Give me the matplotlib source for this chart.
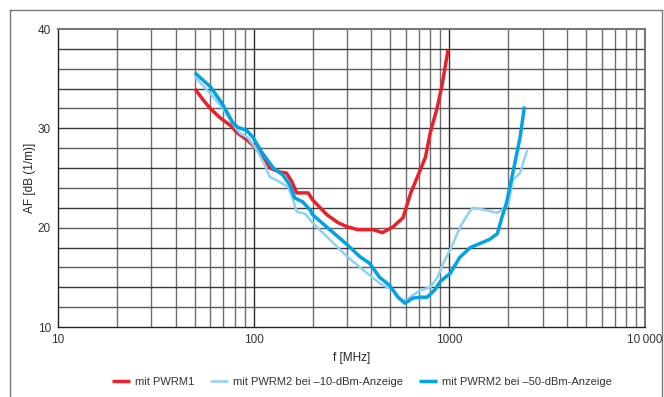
import matplotlib
matplotlib.use("Agg")
import matplotlib.pyplot as plt
from matplotlib.lines import Line2D
from matplotlib.ticker import FixedLocator, NullFormatter, NullLocator

plt.rcParams['font.family'] = ['Liberation Sans Narrow', 'Liberation Sans', 'DejaVu Sans']

# --- data ---
f_red = [50, 55, 60, 67, 76, 83, 93, 104, 113, 121, 136, 147, 157, 166, 190, 200,
         237, 270, 300, 340, 408, 455, 517, 580, 635, 670, 710, 755, 800, 865, 915, 985]
af_red = [34.0, 32.9, 32.0, 31.1, 30.3, 29.5, 28.8, 27.9, 27.0, 26.0, 25.6, 25.5, 24.6,
          23.5, 23.5, 22.8, 21.3, 20.5, 20.1, 19.8, 19.8, 19.5, 20.1, 21.0, 23.5, 24.6,
          25.8, 27.1, 29.6, 32.0, 34.2, 37.9]

f_m10 = [50, 60, 69, 78, 85, 93, 104, 112, 121, 136, 150, 159, 166, 183, 194, 200, 245,
         300, 360, 440, 515, 573, 605, 650, 710, 800, 870, 930, 1040, 1130, 1220, 1310,
         1430, 1760, 1860, 2000, 2110, 2300, 2380, 2500]
af_m10 = [35.2, 33.5, 32.1, 30.5, 29.5, 29.1, 27.8, 26.6, 25.1, 24.6, 24.1, 22.8, 21.6,
          21.4, 20.8, 20.5, 18.8, 17.1, 15.8, 14.4, 13.7, 12.7, 12.7, 13.2, 13.7, 14.0,
          15.0, 16.4, 18.3, 20.0, 21.1, 22.0, 21.9, 21.5, 21.8, 22.3, 24.8, 25.5, 26.5, 27.8]

f_m50 = [50, 60, 69, 78, 83, 92, 99, 110, 126, 141, 153, 162, 178, 194, 200, 245, 300,
         348, 392, 440, 495, 546, 593, 650, 710, 770, 840, 900, 1010, 1130, 1280, 1430,
         1600, 1760, 1860, 1960, 2110, 2300, 2420]
af_m50 = [35.6, 34.2, 32.5, 30.6, 30.1, 29.8, 29.1, 27.6, 26.0, 25.3, 24.3, 23.0, 22.6,
          21.8, 21.3, 19.8, 18.3, 17.1, 16.4, 15.0, 14.2, 13.0, 12.4, 12.9, 13.0, 13.0,
          13.7, 14.6, 15.4, 17.0, 18.0, 18.4, 18.8, 19.4, 21.1, 22.5, 25.5, 29.1, 32.2]

labels = ['mit PWRM1', 'mit PWRM2 bei \u201310-dBm-Anzeige', 'mit PWRM2 bei \u201350-dBm-Anzeige']
colors = ['#e8212b', '#8ed2f3', '#00a4e2']

x_ticks = [10, 100, 1000, 10000]
x_ticklabels = ['10', '100', '1000', '10\u2009000']
y_ticks = [10, 20, 30, 40]

# --- figure ---
fig = plt.figure(figsize=(6.64, 3.97), dpi=100)
ax = fig.add_axes([58/664, 1-327/397, (645-58)/664, (327-29)/397])
ax.set_xscale('log')
ax.set_xlim(10, 10000)
ax.set_ylim(10, 40)

# grid
minor_x = [m * 10**d for d in range(1, 4) for m in range(2, 10)]
for xv in minor_x:
    ax.axvline(xv, color='#6e6e6e', lw=1.0, zorder=1)
for xv in [100, 1000]:
    ax.axvline(xv, color='#2a2a2a', lw=1.0, zorder=1)
for yv in range(12, 40, 2):
    ax.axhline(yv, color='#3a3a3a' if yv % 4 == 2 else '#5a5a5a', lw=1.0, zorder=1)

kw = dict(solid_capstyle='butt', solid_joinstyle='round')
ax.plot(f_red, af_red, color=colors[0], lw=2.5, label=labels[0], zorder=3, **kw)
ax.plot(f_m10, af_m10, color=colors[1], lw=1.8, label=labels[1], zorder=4, **kw)
ax.plot(f_m50, af_m50, color=colors[2], lw=2.5, label=labels[2], zorder=5, **kw)

ax.xaxis.set_major_locator(FixedLocator(x_ticks))
ax.set_xticklabels(x_ticklabels)
ax.xaxis.set_minor_locator(NullLocator())
ax.xaxis.set_minor_formatter(NullFormatter())
ax.set_yticks(y_ticks)
ax.tick_params(axis='both', length=0, labelsize=8.5, colors='#333333', pad=5)

for s in ['top', 'right']:
    ax.spines[s].set_color('#777777')
    ax.spines[s].set_linewidth(1.5)
for s in ['left', 'bottom']:
    ax.spines[s].set_color('#222222')
    ax.spines[s].set_linewidth(1.0)

ax.set_xlabel('f [MHz]', fontsize=8.5, color='#222222', labelpad=4)
ax.set_ylabel('AF [dB (1/m)]', fontsize=8.5, color='#222222', labelpad=1)

fig.legend(loc='center', bbox_to_anchor=(0.545, 0.038), ncol=3, frameon=False,
           fontsize=8, handlelength=1.6, handletextpad=0.5, columnspacing=1.4,
           labelcolor='#333333')

# outer frame
fc = '#777777'
fig.add_artist(Line2D([10/664, 662/664], [1-9.5/397, 1-9.5/397], transform=fig.transFigure, color=fc, lw=1.0))
fig.add_artist(Line2D([10/664, 10/664], [0, 1-9.5/397], transform=fig.transFigure, color=fc, lw=1.0))
fig.add_artist(Line2D([662/664, 662/664], [0, 1-9.5/397], transform=fig.transFigure, color=fc, lw=1.0))

fig.savefig('out.png', dpi=100)
